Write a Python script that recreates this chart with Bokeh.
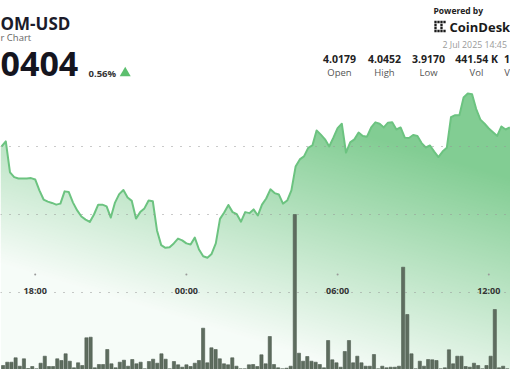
import numpy as np
import pandas as pd
from bokeh.plotting import figure
from bokeh.models import Range1d, Span
from bokeh.core.properties import value
from bokeh.embed import file_html
from bokeh.resources import INLINE

# ---------------- data ----------------
start_time = "2025-07-01 16:40"
step_minutes = 10
prices = [
    4.0200, 4.0215, 4.0124, 4.0110, 4.0106, 4.0106, 4.0106, 4.0107, 4.0103, 4.0071,
    4.0044, 4.0038, 4.0034, 4.0029, 4.0032, 4.0068, 4.0066, 4.0035, 4.0012, 3.9994,
    3.9985, 3.9978, 4.0000, 4.0029, 4.0029, 4.0024, 3.9991, 4.0035, 4.0060, 4.0072,
    4.0050, 4.0040, 3.9988, 4.0007, 4.0018, 4.0041, 4.0039, 3.9953, 3.9910, 3.9902,
    3.9904, 3.9915, 3.9929, 3.9924, 3.9915, 3.9912, 3.9932, 3.9897, 3.9877, 3.9873,
    3.9884, 3.9915, 3.9987, 4.0006, 4.0028, 4.0007, 4.0001, 3.9979, 4.0007, 4.0004,
    4.0015, 3.9997, 4.0029, 4.0047, 4.0074, 4.0063, 4.0059, 4.0032, 4.0041, 4.0071,
    4.0141, 4.0162, 4.0171, 4.0196, 4.0203, 4.0247, 4.0235, 4.0221, 4.0200, 4.0226,
    4.0254, 4.0267, 4.0182, 4.0212, 4.0221, 4.0241, 4.0231, 4.0229, 4.0256, 4.0271,
    4.0267, 4.0256, 4.0270, 4.0271, 4.0250, 4.0256, 4.0226, 4.0225, 4.0234, 4.0231,
    4.0210, 4.0197, 4.0203, 4.0185, 4.0169, 4.0185, 4.0196, 4.0286, 4.0292, 4.0292,
    4.0344, 4.0356, 4.0354, 4.0310, 4.0279, 4.0267, 4.0253, 4.0242, 4.0231, 4.0259,
    4.0250, 4.0256,
]
volumes = [
    1000, 1825, 1825, 2925, 825, 2675, 250, 750, 175, 1575,
    3325, 750, 750, 2675, 2250, 3925, 2075, 425, 1675, 1000,
    7925, 8075, 425, 1250, 1250, 5000, 1425, 425, 1825, 2325,
    825, 2500, 1425, 1825, 175, 2000, 2575, 1575, 3925, 2575,
    175, 2000, 1175, 575, 1175, 750, 1575, 2250, 10325, 1675,
    5425, 5000, 2675, 1425, 1175, 2925, 825, 175, 175, 1175,
    1250, 750, 3675, 1425, 8250, 1250, 425, 175, 325, 825,
    38750, 4075, 2075, 3250, 2075, 1825, 1250, 425, 7250, 2425,
    1675, 575, 4500, 7250, 1675, 3325, 1675, 825, 825, 3750,
    175, 825, 425, 575, 575, 825, 25575, 13750, 3925, 175,
    2075, 825, 2500, 2425, 2250, 175, 425, 4925, 1425, 3325,
    3325, 750, 575, 1575, 1000, 175, 1000, 3325, 15000, 425,
    825, 175,
]
tick_times = ["2025-07-01 18:00", "2025-07-02 00:00", "2025-07-02 06:00", "2025-07-02 12:00"]
tick_labels = ["18:00", "00:00", "06:00", "12:00"]
grid_prices = [4.00, 4.02]

symbol = "OM-USD"
subtitle = "r Chart"
last_price = "0404"
change_pct = "0.56%"
stat_values = ["4.0179", "4.0452", "3.9170", "441.54 K", "1"]
stat_labels = ["Open", "High", "Low", "Vol", "V"]
powered = "Powered by"
brand = "CoinDesk"
stamp = "2 Jul 2025 14:45"

# ---------------- layout ----------------
W, H = 510, 369
LEFT, RIGHT, TOP, BOTTOM = 0, W, 0, H   # page pixel frame

base = pd.Timestamp("2025-07-01 18:00")
times = pd.date_range(start_time, periods=len(prices), freq=f"{step_minutes}min")
mins = ((times - base) / pd.Timedelta(minutes=1)).to_numpy()
tick_mins = ((pd.to_datetime(tick_times) - base) / pd.Timedelta(minutes=1)).to_numpy()

PX_PER_MIN, X_BASE = 0.42, 34.7
x_start = (LEFT - X_BASE) / PX_PER_MIN
x_end = (RIGHT - X_BASE) / PX_PER_MIN

PX_PER_PRICE, Y_AT_4 = 68 / 0.02, 214.0
p_top = 4.0 + (Y_AT_4 - TOP) / PX_PER_PRICE
p_bot = 4.0 - (BOTTOM - Y_AT_4) / PX_PER_PRICE

VX_PX_PER_MIN, VX_BASE = 0.4167, 35.94
vx_start = (LEFT - VX_BASE) / VX_PX_PER_MIN
vx_end = (RIGHT - VX_BASE) / VX_PX_PER_MIN
VOL_PER_PX, VOL_BASE_Y = 250, 369
vy_start = (VOL_BASE_Y - BOTTOM) * VOL_PER_PX
vy_end = (VOL_BASE_Y - TOP) * VOL_PER_PX

p = figure(width=W, height=H, output_backend="svg", toolbar_location=None,
           x_range=Range1d(x_start, x_end), y_range=Range1d(p_bot, p_top),
           x_axis_type=None, y_axis_type=None, min_border=0,
           outline_line_color=None, background_fill_color="white",
           border_fill_color="white")
p.extra_x_ranges = {"vx": Range1d(vx_start, vx_end), "px": Range1d(LEFT, RIGHT)}
p.extra_y_ranges = {"vy": Range1d(vy_start, vy_end), "py": Range1d(BOTTOM, TOP)}

# ---------------- gradient fill under the line ----------------
line_px_x = X_BASE + PX_PER_MIN * mins
line_px_y = Y_AT_4 - (np.array(prices) - 4.0) * PX_PER_PRICE
cx = LEFT + np.arange(W) + 0.5
cy = TOP + np.arange(H) + 0.5
edge = np.interp(cx, line_px_x, line_px_y)
X, Y = np.meshgrid(cx, cy)
alpha = np.clip(0.57 + 0.001 * (X - 300) - 0.0033 * (Y - 200), 0.06, 0.85)
cover = np.clip(Y + 0.5 - edge[None, :], 0, 1)
alpha = alpha * cover
img = np.zeros((H, W, 4), dtype=np.uint8)
img[..., 0], img[..., 1], img[..., 2] = 108, 196, 128
img[..., 3] = (alpha * 255).astype(np.uint8)
img = img[::-1].copy()
p.image_rgba(image=[img.view(np.uint32).reshape(H, W)], x=x_start, y=p_bot,
             dw=x_end - x_start, dh=p_top - p_bot)

# ---------------- grid rows ----------------
for gp in grid_prices:
    p.add_layout(Span(location=gp, dimension="width", line_color="#959595",
                      line_width=1.2, line_dash="1 8"))
p.add_layout(Span(location=292, dimension="width", y_range_name="py",
                  line_color="#959595", line_width=1.2, line_dash="1 8"))

# ---------------- volume bars ----------------
p.vbar(x=mins, top=volumes, bottom=0, width=7.6, x_range_name="vx",
       y_range_name="vy", fill_color="#5e6d5f", line_color="#4f5c50",
       line_width=0.6)

# ---------------- price line ----------------
p.line(x=mins, y=prices, line_color="#6cc380", line_width=2, line_join="round")

# ---------------- time axis labels ----------------
p.scatter(x=tick_mins, y=[274] * len(tick_mins), y_range_name="py", size=2,
          fill_color="#9a9a9a", line_color=None)
t = p.text(x=tick_mins, y=[289.5] * len(tick_mins), text=tick_labels,
           y_range_name="py", text_font=value("Open Sans"), text_font_size="9px",
           text_font_style="bold", text_color="#333333", text_align="center",
           text_baseline="middle")
t.level = "overlay"

# ---------------- header ----------------
def txt(x, y, s, size, color, bold=False, align="left"):
    r = p.text(x=[x], y=[y], text=[s], x_range_name="px", y_range_name="py",
               text_font=value("Open Sans"), text_font_size=size,
               text_font_style="bold" if bold else "normal",
               text_color=color, text_align=align, text_baseline="middle")
    r.level = "overlay"

txt(0, 23, symbol, "17px", "#1b1b2a", bold=True)
txt(0, 37, subtitle, "9.5px", "#666666")
txt(0, 63, last_price, "34px", "#15151f", bold=True)
txt(88, 72.5, change_pct, "9.5px", "#333333", bold=True)
p.scatter(x=[124.7], y=[72.5], x_range_name="px", y_range_name="py",
          marker="triangle", size=11, fill_color="#5cbf6e", line_color=None)

txt(433, 10, powered, "8.5px", "#222222", bold=True)
txt(449, 26.5, brand, "13px", "#1a1a1a", bold=True)
txt(442, 44, stamp, "8.8px", "#9a9a9a")

col_x = [339, 384, 428, 476, 506.5]
for cxv, v, lab in zip(col_x, stat_values, stat_labels):
    txt(cxv, 58.5, v, "10.5px", "#222222", bold=True, align="center")
    txt(cxv, 71.5, lab, "9.5px", "#555555", align="center")

# CoinDesk mark (dotted bracket)
lx = [435, 435, 435, 435, 438, 441, 444, 438, 441, 444, 441, 441]
ly = [21.5, 24.5, 27.5, 30.5, 21.5, 21.5, 21.5, 30.5, 30.5, 30.5, 24.5, 27.5]
p.rect(x=lx, y=ly, width=2.3, height=2.3, x_range_name="px", y_range_name="py",
       fill_color="#1a1a1a", line_color=None)

open("out.html", "w").write(file_html(p, INLINE))
